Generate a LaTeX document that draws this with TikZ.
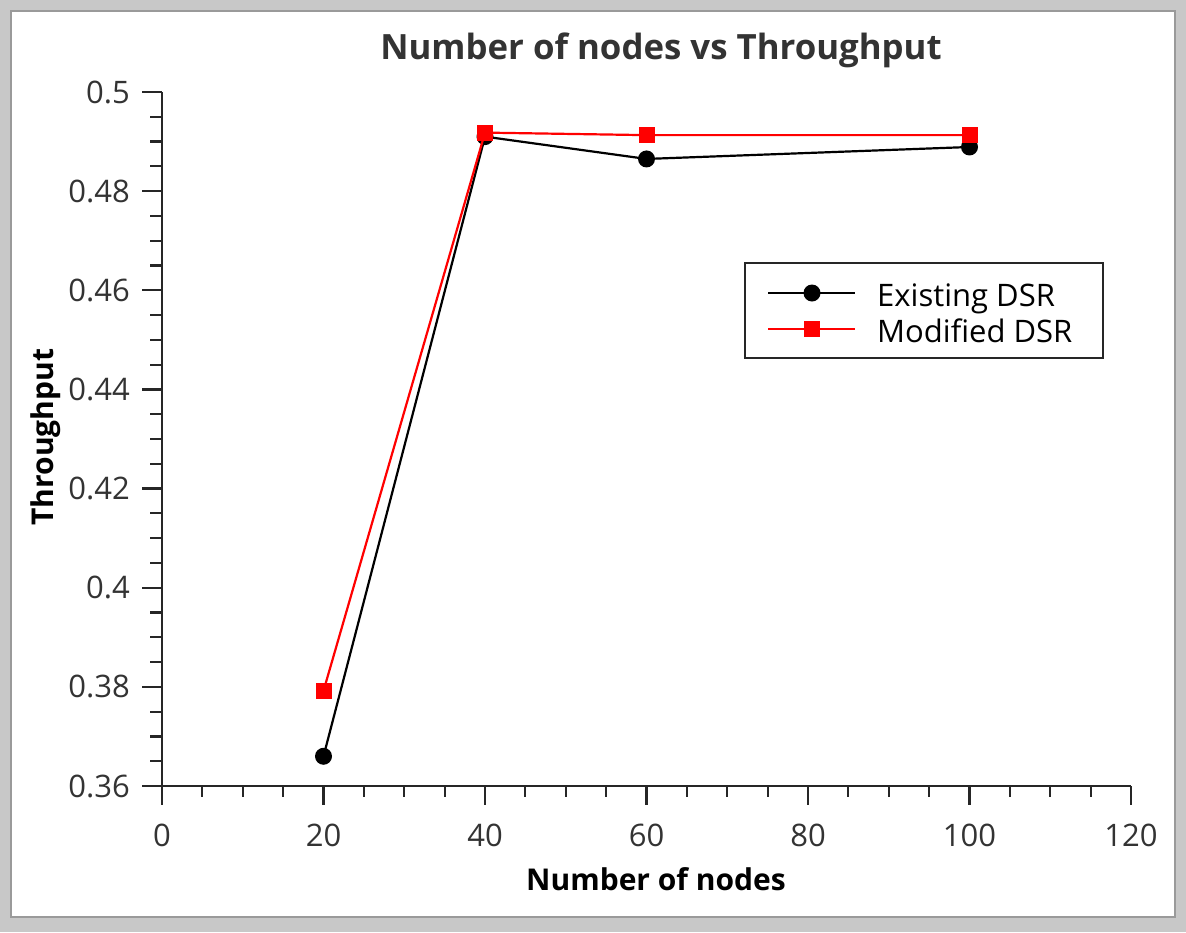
\documentclass[tikz,border=0pt]{standalone}
\usepackage{fontspec}
\setmainfont{Open Sans}
\definecolor{framebg}{HTML}{C8C8C8}
\definecolor{frameline}{HTML}{9A9A9A}
\definecolor{labelgray}{HTML}{333333}
\definecolor{seriesred}{HTML}{FF0000}
% data-to-canvas mapping (x: 0..120, y: 0.36..0.50)
\newcommand\PX[1]{162+8.075*(#1)}
\newcommand\PY[1]{786-4957.14*((#1)-0.36)}
\begin{document}
\begin{tikzpicture}[x=1pt,y=-1pt,
  axisline/.style={line width=2.2pt,black!85},
  ticklabel/.style={inner sep=0pt,text=labelgray,font=\fontsize{31}{35}\selectfont},
  axislabel/.style={inner sep=0pt,font=\bfseries\fontsize{30}{34}\selectfont},
  titlelabel/.style={inner sep=0pt,text=labelgray,font=\bfseries\fontsize{34.8}{40}\selectfont},
  legendtext/.style={inner sep=0pt,anchor=base west,font=\fontsize{31}{36}\selectfont},
  blackline/.style={line width=2.2pt,black},
  redline/.style={line width=2.2pt,seriesred},
  circmark/.style={circle,fill=black,inner sep=0pt,minimum size=17pt},
  sqmark/.style={rectangle,fill=seriesred,inner sep=0pt,minimum size=16pt}]
\useasboundingbox (0,0) rectangle (1186,932);
% window frame
\fill[framebg] (0,0) rectangle (1186,932);
\draw[fill=white,draw=frameline,line width=2pt] (11,11) rectangle (1175,917);

% title and axis titles
\node[titlelabel,anchor=base] (title) at (661,59) {Number of nodes vs Throughput};
\node[axislabel,anchor=base] (xtitle) at (656,890) {Number of nodes};
\node[axislabel,anchor=base,rotate=90] (ytitle) at (53,437) {Throughput};

% axes
\draw[axisline] (162,92) -- (162,786) -- (1131,786);
% x ticks
\foreach \v in {0,5,...,120} \draw[axisline] ({\PX{\v}},786) -- ++(0,11);
\foreach \v in {0,20,...,120} {
  \draw[axisline] ({\PX{\v}},786) -- ++(0,19);
  \node[ticklabel,anchor=base] (xl\v) at ({\PX{\v}},846) {\v};
}
% y ticks
\foreach \i in {0,...,28} \draw[axisline] (162,{786-\i*(694/28)}) -- ++(-12,0);
\foreach \i/\lab in {0/0.36,1/0.38,2/0.4,3/0.42,4/0.44,5/0.46,6/0.48,7/0.5} {
  \draw[axisline] (162,{786-\i*(694/7)}) -- ++(-20,0);
  \node[ticklabel,anchor=base east] (yl\i) at (130,{786-\i*(694/7)+11}) {\lab};
}

% data points
\coordinate (e20) at ({\PX{20}},{\PY{0.3660}});
\coordinate (e40) at ({\PX{40}},{\PY{0.4910}});
\coordinate (e60) at ({\PX{60}},{\PY{0.4865}});
\coordinate (e100) at ({\PX{100}},{\PY{0.4889}});
\coordinate (m20) at ({\PX{20}},{\PY{0.3792}});
\coordinate (m40) at ({\PX{40}},{\PY{0.4918}});
\coordinate (m60) at ({\PX{60}},{\PY{0.4913}});
\coordinate (m100) at ({\PX{100}},{\PY{0.4913}});

% Existing DSR
\draw[blackline] (e20) -- (e40) -- (e60) -- (e100);
\foreach \p in {20,40,60,100} \node[circmark] (E\p) at (e\p) {};
% Modified DSR
\draw[redline] (m20) -- (m40) -- (m60) -- (m100);
\foreach \p in {20,40,60,100} \node[sqmark] (M\p) at (m\p) {};

% legend
\draw[line width=2pt,black!85] (745,263) rectangle (1103,358);
\coordinate (la1) at (768,293); \coordinate (lb1) at (855,293);
\coordinate (la2) at (768,329); \coordinate (lb2) at (855,329);
\draw[line width=1.6pt,black] (la1) -- (lb1);
\node[circmark] (legE) at (812,293) {};
\draw[line width=1.6pt,seriesred] (la2) -- (lb2);
\node[sqmark] (legM) at (812,329) {};
\node[legendtext] (legEt) at (877,306) {Existing DSR};
\node[legendtext] (legMt) at (877,342) {Modified DSR};
\end{tikzpicture}
\end{document}
